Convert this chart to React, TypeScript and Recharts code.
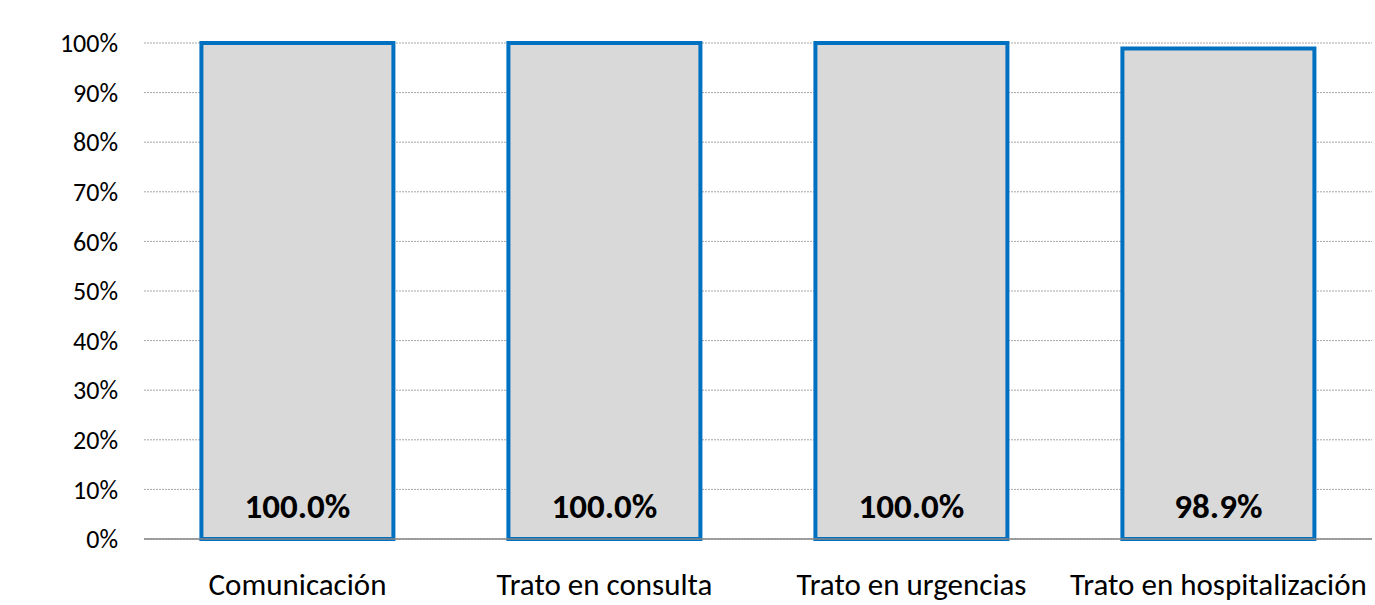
import React from 'react';
import { BarChart, Bar, XAxis, YAxis, CartesianGrid, LabelList } from 'recharts';

const categories = ['Comunicación', 'Trato en consulta', 'Trato en urgencias', 'Trato en hospitalización'];
const values = [100, 100, 100, 98.9];
const yTicks = [0, 10, 20, 30, 40, 50, 60, 70, 80, 90, 100];

const data = categories.map((name, i) => ({ name, value: values[i] }));

const FONT = 'Carlito, Lato, "Open Sans", sans-serif';

export default function App() {
  return (
    <div style={{ width: 1375, height: 605, background: '#fff', fontFamily: FONT }}>
      <style>{`body{margin:0}`}</style>
      <BarChart
        width={1375}
        height={605}
        data={data}
        margin={{ top: 43, right: 3, left: 0, bottom: 0 }}
        barCategoryGap="18.7%"
      >
        <CartesianGrid horizontal vertical={false} stroke="#a6a6a6" strokeDasharray="2 1" />
        <YAxis
          width={144}
          domain={[0, 100]}
          ticks={yTicks}
          tickFormatter={(v: number) => `${v}%`}
          axisLine={false}
          tickLine={false}
          tickSize={0}
          tickMargin={26}
          tick={{ fill: '#000', fontSize: 26, fontFamily: FONT }}
        />
        <XAxis
          dataKey="name"
          height={66}
          axisLine={{ stroke: '#868686', strokeWidth: 1.5 }}
          tickLine={false}
          tickSize={0}
          tickMargin={34}
          interval={0}
          tick={{ fill: '#000', fontSize: 31, fontFamily: FONT }}
        />
        <Bar dataKey="value" fill="#d9d9d9" stroke="#0070c0" strokeWidth={4} isAnimationActive={false}>
          <LabelList
            dataKey="value"
            position="insideBottom"
            offset={21}
            formatter={(v: number) => `${v.toFixed(1)}%`}
            style={{ fill: '#000', fontSize: 35, fontWeight: 'bold', fontFamily: FONT }}
          />
        </Bar>
      </BarChart>
    </div>
  );
}
